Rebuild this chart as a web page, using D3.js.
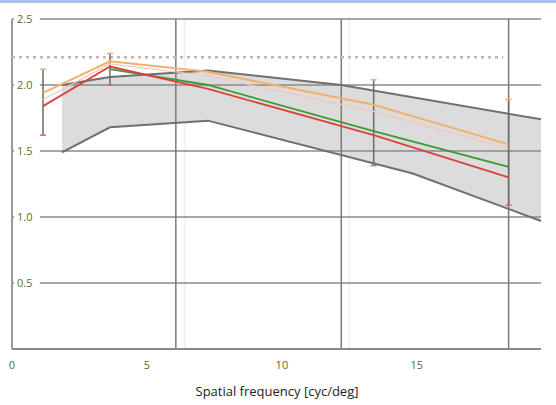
<!DOCTYPE html>
<html>
<head>
<meta charset="utf-8">
<script src="https://cdn.jsdelivr.net/npm/d3@7"></script>
<style>
  body { margin: 0; background: #fff; }
  svg { display: block; font-family: 'Open Sans', 'Liberation Sans', sans-serif; }
</style>
</head>
<body>
<div id="chart"></div>
<script>
// Spatial frequency (cyc/deg) of the measured points
const freqs = [1.15, 3.63, 7.26, 13.4, 18.4];

const redSeries = [1.84, 2.14, 1.97, 1.62, 1.30];
const greenSeries = [null, 2.12, 2.0, 1.65, 1.38];
const orangeSeries = [1.94, 2.18, 2.10, 1.85, 1.55];
const pinkSeries = [1.89, 2.16, 2.07, 1.80, 1.52];

// Grey reference band
const bandUpperX = [1.85, 3.63, 7.26, 12.2, 19.6];
const bandUpperY = [2.0, 2.06, 2.11, 2.0, 1.74];
const bandLowerX = [1.85, 3.63, 7.26, 14.85, 19.6];
const bandLowerY = [1.49, 1.68, 1.73, 1.33, 0.97];

// Error bars
const errX = [1.15, 3.63, 13.4, 18.4];
const errLow = [1.62, 2.0, 1.39, 1.09];
const errHigh = [2.12, 2.24, 2.04, 1.89];

const refLevel = 2.21;
const yTicks = [0.5, 1.0, 1.5, 2.0, 2.5];
const xTicks = [0, 5, 10, 15];
const vGrid = [6.07, 12.2, 18.4];
const vGridFaint = [6.4, 12.5];

const W = 556, H = 405;
const svg = d3.select('#chart').append('svg').attr('width', W).attr('height', H);

const x = d3.scaleLinear().domain([0, 19.6]).range([12, 541]);
const y = d3.scaleLinear().domain([0, 2.5]).range([349, 19]);

// top strip
svg.append('rect').attr('x', 0).attr('y', 0).attr('width', W).attr('height', 3).attr('fill', '#a9c3ec');

// faint vertical lines
svg.selectAll('.vfaint').data(vGridFaint).join('line')
  .attr('x1', d => x(d)).attr('x2', d => x(d))
  .attr('y1', y(2.5)).attr('y2', y(0))
  .attr('stroke', '#f1f1f1').attr('stroke-width', 2);

// band
const upper = bandUpperX.map((v, i) => [v, bandUpperY[i]]);
const lower = bandLowerX.map((v, i) => [v, bandLowerY[i]]);
const bandPoly = upper.concat(lower.slice().reverse());
svg.append('path')
  .attr('d', d3.line().x(d => x(d[0])).y(d => y(d[1]))(bandPoly) + 'Z')
  .attr('fill', '#dcdcdc');

// horizontal grid
svg.selectAll('.hgrid').data(yTicks).join('line')
  .attr('x1', x(0)).attr('x2', x(19.6))
  .attr('y1', d => y(d)).attr('y2', d => y(d))
  .attr('stroke', '#8a8a8a').attr('stroke-width', 1.5);

// vertical grid
svg.selectAll('.vgrid').data(vGrid).join('line')
  .attr('x1', d => x(d)).attr('x2', d => x(d))
  .attr('y1', y(2.5)).attr('y2', y(0))
  .attr('stroke', '#7a7a7a').attr('stroke-width', 1.5);

// axes lines
svg.append('line').attr('x1', x(0)).attr('x2', x(0)).attr('y1', y(2.5)).attr('y2', y(0))
  .attr('stroke', '#9a9a9a').attr('stroke-width', 2);
svg.append('line').attr('x1', x(0)).attr('x2', x(19.6)).attr('y1', y(0)).attr('y2', y(0))
  .attr('stroke', '#8a8a8a').attr('stroke-width', 2);

// reference dotted line
svg.append('line').attr('x1', x(0)).attr('x2', x(18.2))
  .attr('y1', y(refLevel)).attr('y2', y(refLevel))
  .attr('stroke', '#c9b3ba').attr('stroke-width', 2.5).attr('stroke-dasharray', '3,4');

// band edges
const edge = d3.line().x(d => x(d[0])).y(d => y(d[1]));
[upper, lower].forEach(pts => {
  svg.append('path').attr('d', edge(pts)).attr('fill', 'none')
    .attr('stroke', '#707070').attr('stroke-width', 2);
});

// error bars
const errs = errX.map((v, i) => ({ x: v, lo: errLow[i], hi: errHigh[i] }));
svg.selectAll('.err').data(errs).join('line')
  .attr('x1', d => x(d.x)).attr('x2', d => x(d.x))
  .attr('y1', d => y(d.hi)).attr('y2', d => y(d.lo))
  .attr('stroke', '#6a6a6a').attr('stroke-width', 1.5);
svg.selectAll('.capHi').data(errs).join('line')
  .attr('x1', d => x(d.x) - 3).attr('x2', d => x(d.x) + 3)
  .attr('y1', d => y(d.hi)).attr('y2', d => y(d.hi))
  .attr('stroke', '#f0b070').attr('stroke-width', 1.5);
svg.selectAll('.capLo').data(errs).join('line')
  .attr('x1', d => x(d.x) - 3).attr('x2', d => x(d.x) + 3)
  .attr('y1', d => y(d.lo)).attr('y2', d => y(d.lo))
  .attr('stroke', '#e06060').attr('stroke-width', 1.5);

// data lines
const seriesLine = d3.line()
  .defined(d => d[1] != null)
  .x(d => x(d[0])).y(d => y(d[1]));
const series = [
  { vals: pinkSeries, color: '#f3c7bd', w: 1.2 },
  { vals: orangeSeries, color: '#f2b06a', w: 2 },
  { vals: greenSeries, color: '#3a9a3a', w: 1.8 },
  { vals: redSeries, color: '#d9433c', w: 1.8 }
];
series.forEach(s => {
  svg.append('path')
    .attr('d', seriesLine(freqs.map((f, i) => [f, s.vals[i]])))
    .attr('fill', 'none').attr('stroke', s.color).attr('stroke-width', s.w);
});

// y tick labels with white boxes
const yl = svg.selectAll('.ylab').data(yTicks).join('g')
  .attr('transform', d => `translate(${x(0) + 2},${y(d)})`);
yl.append('rect').attr('x', 0).attr('y', -8).attr('width', 26).attr('height', 16).attr('fill', '#fff');
yl.append('text').attr('x', 3).attr('dy', '0.35em')
  .attr('font-size', 11).attr('fill', '#5f6b2c')
  .text(d => d.toFixed(1));

// x tick labels
svg.selectAll('.xlab').data(xTicks).join('text')
  .attr('x', d => x(d)).attr('y', 369)
  .attr('text-anchor', 'middle').attr('font-size', 11).attr('fill', '#5f6b2c')
  .text(d => d);

svg.append('text').attr('x', 277).attr('y', 396)
  .attr('text-anchor', 'middle').attr('font-size', 13).attr('fill', '#222')
  .text('Spatial frequency [cyc/deg]');
</script>
</body>
</html>
